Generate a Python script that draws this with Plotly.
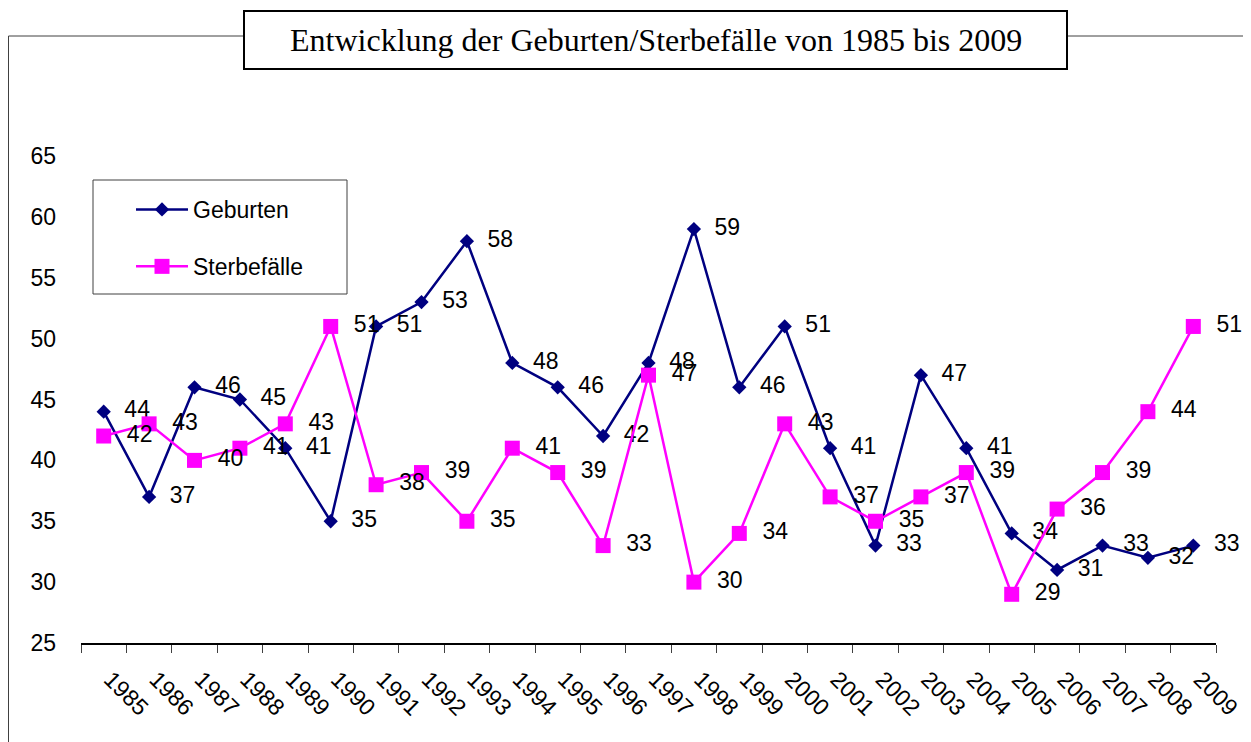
import plotly.graph_objects as go

years = [str(y) for y in range(1985, 2010)]
geburten = [44, 37, 46, 45, 41, 35, 51, 53, 58, 48, 46, 42, 48, 59, 46, 51, 41, 33, 47, 41, 34, 31, 33, 32, 33]
sterbefaelle = [42, 43, 40, 41, 43, 51, 38, 39, 35, 41, 39, 33, 47, 30, 34, 43, 37, 35, 37, 39, 29, 36, 39, 44, 51]
y_ticks = [25, 30, 35, 40, 45, 50, 55, 60, 65]
title_text = "Entwicklung der Geburten/Sterbefälle von 1985 bis 2009"

# page body has an 8px margin; positions below are in screenshot pixels
OFF = 8
W, H = 1251 - OFF, 742 - OFF
L, R, T, B = 81 - OFF, 35, 156 - OFF, 99
PW, PH = W - L - R, H - T - B


def px(x):
    return (x - OFF - L) / PW


def py(y):
    return (H - B - (y - OFF)) / PH


FONT = "Liberation Sans, Arial, sans-serif"
NB = "\u00a0\u00a0"

fig = go.Figure()
fig.add_trace(go.Scatter(
    x=years, y=geburten, name="Geburten", mode="lines+markers+text",
    line=dict(color="#000080", width=2.5),
    marker=dict(symbol="diamond", size=11, color="#000080"),
    text=[NB + str(v) for v in geburten], textposition="middle right",
    textfont=dict(family=FONT, size=23, color="black"),
    legendgroup="g", cliponaxis=False,
))
fig.add_trace(go.Scatter(
    x=years, y=sterbefaelle, name="Sterbefälle", mode="lines+markers+text",
    line=dict(color="#FF00FF", width=2.5),
    marker=dict(symbol="square", size=15, color="#FF00FF"),
    text=[NB + str(v) for v in sterbefaelle], textposition="middle right",
    textfont=dict(family=FONT, size=23, color="black"),
    legendgroup="s", cliponaxis=False,
))

shapes = [
    # outer chart border (partly visible)
    dict(type="rect", xref="paper", yref="paper", x0=px(8.5), x1=px(1270), y0=py(770), y1=py(36),
         line=dict(color="#404040", width=1), fillcolor="rgba(0,0,0,0)", layer="above"),
    # title box
    dict(type="rect", xref="paper", yref="paper", x0=px(244), x1=px(1067), y0=py(69), y1=py(11),
         line=dict(color="black", width=2), fillcolor="white", layer="above"),
    # legend box
    dict(type="rect", xref="paper", yref="paper", x0=px(93), x1=px(347), y0=py(294), y1=py(180),
         line=dict(color="#404040", width=1), fillcolor="rgba(0,0,0,0)", layer="above"),
]

fig.update_layout(
    width=W, height=H,
    margin=dict(l=L, r=R, t=T, b=B, autoexpand=False),
    paper_bgcolor="white", plot_bgcolor="white",
    font=dict(family=FONT, size=23, color="black"),
    shapes=shapes,
    annotations=[dict(text=title_text, xref="paper", yref="paper", x=px(655.5), y=py(40),
                      xanchor="center", yanchor="middle", showarrow=False,
                      font=dict(family="Liberation Serif, Times New Roman, serif", size=32, color="black"))],
    showlegend=True,
    legend=dict(x=px(131), y=py(188), xanchor="left", yanchor="top",
                bgcolor="rgba(0,0,0,0)", borderwidth=0, itemwidth=52,
                tracegroupgap=24, traceorder="grouped",
                font=dict(family=FONT, size=23, color="black")),
    xaxis=dict(type="category", categoryorder="array", categoryarray=years,
               range=[-0.5, len(years) - 0.5],
               showline=True, linecolor="black", linewidth=1.5,
               ticks="outside", tickson="boundaries", ticklen=8, tickcolor="#404040", tickwidth=1,
               tickangle=45, showgrid=False, zeroline=False,
               ticklabelstandoff=12, ticklabelshift=7,
               tickfont=dict(family=FONT, size=23, color="black")),
    yaxis=dict(range=[25, 65], tickvals=y_ticks, ticktext=[str(v) for v in y_ticks],
               showline=False, showgrid=False, zeroline=False, ticks="",
               ticklabelstandoff=24,
               tickfont=dict(family=FONT, size=23, color="black")),
)

fig.write_html("out.html")
